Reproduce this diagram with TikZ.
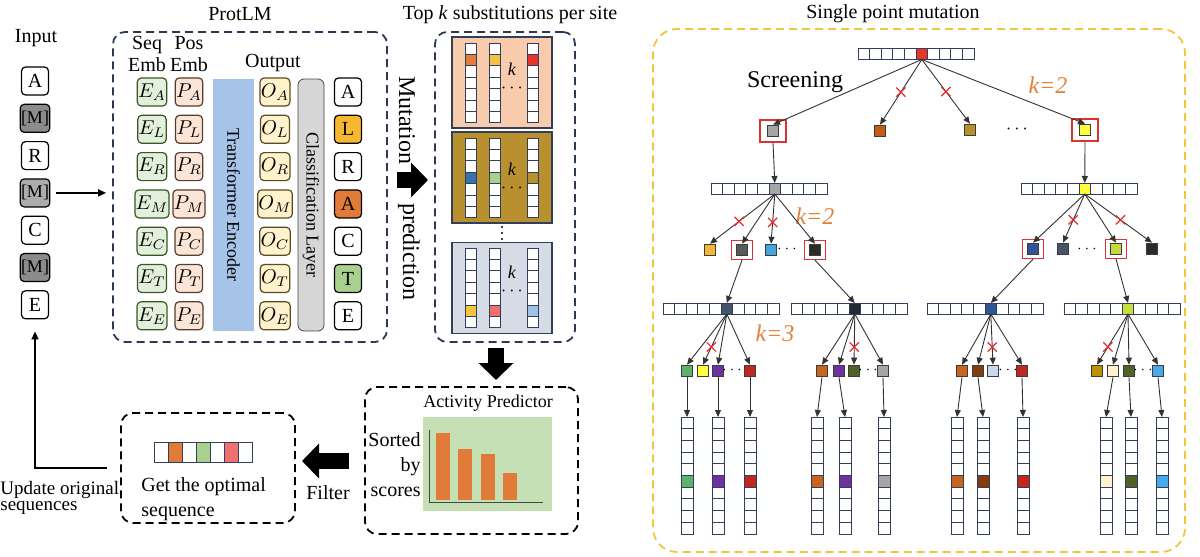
\documentclass[tikz,border=0pt]{standalone}
\usepackage{fontspec}
\setmainfont{Liberation Serif}
\usepackage{tikz}
\usetikzlibrary{arrows.meta, positioning, calc, shapes.misc}
\definecolor{boxnavy}{RGB}{43,57,85}
\definecolor{cellnavy}{RGB}{50,63,90}
\definecolor{embfill}{RGB}{226,239,218}
\definecolor{embdraw}{RGB}{56,87,35}
\definecolor{posfill}{RGB}{251,229,214}
\definecolor{posdraw}{RGB}{90,60,40}
\definecolor{outfill}{RGB}{255,242,204}
\definecolor{outdraw}{RGB}{90,75,30}
\definecolor{teblue}{RGB}{166,196,232}
\definecolor{clgray}{RGB}{214,214,214}
\definecolor{cldraw}{RGB}{70,70,70}
\definecolor{mgray}{RGB}{140,140,140}
\definecolor{mlgray}{RGB}{172,172,172}
\definecolor{cgold}{RGB}{245,184,48}
\definecolor{corange}{RGB}{224,123,57}
\definecolor{cgreen}{RGB}{169,209,142}
\definecolor{cyellow}{RGB}{245,195,66}
\definecolor{cred}{RGB}{232,53,42}
\definecolor{cblue}{RGB}{58,111,176}
\definecolor{csalmon}{RGB}{240,112,112}
\definecolor{clblue}{RGB}{157,195,230}
\definecolor{peach}{RGB}{248,203,173}
\definecolor{olivebg}{RGB}{184,144,46}
\definecolor{bluegray}{RGB}{214,220,229}
\definecolor{chartgreen}{RGB}{197,224,180}
\definecolor{ygold}{RGB}{242,197,61}
\definecolor{framered}{RGB}{220,50,50}
\definecolor{xred}{RGB}{225,45,45}
\definecolor{korange}{RGB}{224,130,60}
\definecolor{treegray}{RGB}{50,50,50}
\definecolor{sqdraw}{RGB}{60,60,60}
\definecolor{tgray}{RGB}{166,166,166}
\definecolor{tbrown}{RGB}{197,90,17}
\definecolor{tolive}{RGB}{184,145,46}
\definecolor{tyellow}{RGB}{255,255,64}
\definecolor{tgold}{RGB}{245,183,49}
\definecolor{tdgray}{RGB}{89,89,89}
\definecolor{tsky}{RGB}{65,168,223}
\definecolor{tblack}{RGB}{40,45,40}
\definecolor{tblue}{RGB}{47,85,151}
\definecolor{tslate}{RGB}{68,84,106}
\definecolor{tlime}{RGB}{197,217,60}
\definecolor{tnavy}{RGB}{34,42,53}
\definecolor{tlime2}{RGB}{200,224,60}
\definecolor{tgreen}{RGB}{90,180,110}
\definecolor{tpurple}{RGB}{112,48,160}
\definecolor{tred}{RGB}{192,40,31}
\definecolor{torange}{RGB}{200,100,30}
\definecolor{tdolive}{RGB}{79,98,40}
\definecolor{tbrown2}{RGB}{132,60,12}
\definecolor{tlav}{RGB}{201,215,239}
\definecolor{tgold2}{RGB}{191,144,0}
\definecolor{tcream}{RGB}{255,242,204}
\definecolor{tlblue}{RGB}{70,170,235}
\tikzset{
  inbox/.style={rectangle, draw=black, fill=white, minimum width=13.5pt,
    minimum height=14pt, inner sep=0.4pt, rounded corners=2pt, line width=0.6pt},
  embbox/.style={inbox, fill=embfill, draw=embdraw},
  posbox/.style={inbox, fill=posfill, draw=posdraw},
  outbox/.style={inbox, fill=outfill, draw=outdraw, minimum width=12pt},
  dbox/.style={rectangle, draw=boxnavy, dash pattern=on 4pt off 2.5pt,
    line width=0.9pt, rounded corners=6pt},
  panel/.style={rectangle, draw=cellnavy, minimum width=50pt, minimum height=45.5pt,
    line width=0.6pt},
  cell/.style={rectangle, draw=cellnavy, minimum width=5.8pt, minimum height=5.5pt,
    inner sep=0pt, outer sep=0pt, line width=0.5pt},
  kcell/.style={cell, minimum width=5.5pt, minimum height=5.7pt},
  fcell/.style={cell, minimum width=6pt, minimum height=5.85pt},
  ocell/.style={cell, minimum width=7pt, minimum height=10pt},
  sq/.style={rectangle, draw=sqdraw, minimum size=5.8pt, inner sep=0pt, line width=0.5pt},
  redframe/.style={rectangle, draw=framered, minimum width=13pt, minimum height=11pt,
    inner sep=0pt, line width=0.6pt},
  smframe/.style={redframe, minimum width=10.5pt, minimum height=9.5pt},
  tarrow/.style={-{Triangle[length=3.5pt,width=3pt]}, line width=0.45pt, color=treegray},
  xmark/.style={cross out, draw=xred, minimum size=4pt, inner sep=0pt, line width=0.6pt},
  kl/.style={font=\large\itshape, color=korange},
  dots/.style={font=\scriptsize, inner sep=0pt},
  bigarrow/.style={line width=8pt, -{Triangle[length=8.5pt,width=17pt]}},
  arrow/.style={-{Triangle[length=4pt,width=3.5pt]}, line width=0.8pt}
}
% row of cells: name, x of first cell, y, count, coloured cell, colour
\newcommand{\hseq}[6]{%
  \foreach \i in {1,...,#4}{%
    \ifnum\i=#5 \def\cc{#6}\else\def\cc{white}\fi
    \node[cell, fill=\cc] (#1-\i) at ({#2+(\i-1)*11.6},#3) {};
  }%
}
% column of cells: style, name, x, y of first cell, step, count, coloured cell, colour
\newcommand{\vseq}[8]{%
  \foreach \i in {1,...,#6}{%
    \ifnum\i=#7 \def\cc{#8}\else\def\cc{white}\fi
    \node[#1, fill=\cc] (#2-\i) at (#3,{#4+(\i-1)*#5}) {};
  }%
}

\begin{document}
\begin{tikzpicture}[x=0.5pt, y=-0.5pt]
  \useasboundingbox (0,0) rectangle (1200,557);

  % input sequence
  \node (inlab) at (36,38) {Input};
  \node[inbox] (in1) at (35,81) {A};
  \node[inbox, fill=mgray] (in2) at (35,118.3) {\small[M]};
  \node[inbox] (in3) at (35,155.6) {R};
  \node[inbox, fill=mlgray] (in4) at (35,192.9) {\small[M]};
  \node[inbox] (in5) at (35,230.2) {C};
  \node[inbox, fill=mgray] (in6) at (35,267.5) {\small[M]};
  \node[inbox] (in7) at (35,304.8) {E};

  % ProtLM
  \node (plmlab) at (240,14) {ProtLM};
  \node[dbox, minimum width=137pt, minimum height=155pt] (plm) at (250,187) {};
  \node[align=center, font=\fontsize{10}{11}\selectfont] (seqlab) at (147,54) {Seq\\Emb};
  \node[align=center, font=\fontsize{10}{11}\selectfont] (poslab) at (189,54) {Pos\\Emb};
  \node (outlab) at (273,63) {Output};
  \foreach \c [count=\i] in {A,L,R,M,C,T,E}{
    \node[embbox] (e\i) at (152,{92+(\i-1)*37.3}) {$E_{\c}$};
    \node[posbox] (p\i) at (189,{92+(\i-1)*37.3}) {$P_{\c}$};
    \node[outbox] (o\i) at (275,{92+(\i-1)*37.3}) {$O_{\c}$};
  }
  \node[fill=teblue, rotate=-90, minimum width=126pt, minimum height=20.5pt,
    font=\small] (te) at (233.5,205) {Transformer Encoder};
  \node[fill=clgray, draw=cldraw, rounded corners=3pt, rotate=-90, minimum width=126pt,
    minimum height=13pt, inner sep=0pt, font=\small] (cl) at (311,205) {Classification Layer};
  \node[inbox] (r1) at (348,92) {A};
  \node[inbox, fill=cgold] (r2) at (348,129.3) {L};
  \node[inbox] (r3) at (348,166.6) {R};
  \node[inbox, fill=corange] (r4) at (348,203.9) {A};
  \node[inbox] (r5) at (348,241.2) {C};
  \node[inbox, fill=cgreen] (r6) at (348,278.5) {T};
  \node[inbox] (r7) at (348,315.8) {E};
  \draw[arrow, shorten <=3pt, shorten >=3pt] (in4.east) -- (in4.east -| plm.west);

  % mutation prediction
  \node[rotate=-90, font=\large] (mutlab) at (407,120) {Mutation};
  \node[rotate=-90, font=\large] (predlab) at (409,252) {prediction};
  \coordinate (mp1) at (397,180);
  \coordinate (mp2) at (428,180);
  \draw[bigarrow] (mp1) -- (mp2);

  % top k substitutions
  \node (tklab) at (510,15) {Top \textit{k} substitutions per site};
  \node[dbox, minimum width=70pt, minimum height=155pt] (tk) at (505,187) {};
  \node[panel, fill=peach] (pa) at (502,82.5) {};
  \node[panel, fill=olivebg] (pb) at (502,177.5) {};
  \node[panel, fill=bluegray] (pc) at (502,288) {};
  \vseq{kcell}{ka1}{471}{48.7}{11.4}{7}{2}{corange}
  \vseq{kcell}{ka2}{495}{48.7}{11.4}{7}{2}{cyellow}
  \vseq{kcell}{ka3}{533}{48.7}{11.4}{7}{2}{cred}
  \vseq{kcell}{kb1}{471}{143.7}{11.4}{7}{4}{cblue}
  \vseq{kcell}{kb2}{495}{143.7}{11.4}{7}{4}{cgreen}
  \vseq{kcell}{kb3}{533}{143.7}{11.4}{7}{4}{olivebg}
  \vseq{kcell}{kc1}{471}{253.7}{11.4}{7}{6}{cyellow}
  \vseq{kcell}{kc2}{495}{253.7}{11.4}{7}{6}{csalmon}
  \vseq{kcell}{kc3}{533}{253.7}{11.4}{7}{6}{clblue}
  \foreach \y/\n in {78/1,178/2,281/3}
    \node[align=center, inner sep=0pt, font=\fontsize{9}{8.5}\selectfont] (kk\n) at (512,\y) {\textit{k}\\$\cdots$};
  \foreach \y in {227,233,239}
    \fill (502,\y) circle (0.6pt);

  % activity predictor
  \coordinate (da1) at (496,348);
  \coordinate (da2) at (496,380);
  \draw[bigarrow] (da1) -- (da2);
  \node[dbox, draw=black, minimum width=106.5pt, minimum height=73.5pt] (act) at (471.5,460.5) {};
  \node[font=\small] (actlab) at (488,403) {Activity Predictor};
  \node[fill=chartgreen, minimum width=64.5pt, minimum height=47pt, inner sep=0pt] (chart) at (487.5,464) {};
  \draw[cldraw, line width=0.5pt] (429,430) -- (429,502) -- (543,502);
  \fill[corange] (436,433) rectangle (450,500);
  \fill[corange] (458,449) rectangle (472,500);
  \fill[corange] (481,454) rectangle (495,500);
  \fill[corange] (503,473) rectangle (517,500);
  \node[align=right, anchor=east, font=\fontsize{10}{12.5}\selectfont, inner sep=0pt] (sortlab) at (421,465) {Sorted\\by\\scores};

  % filter and optimal sequence
  \coordinate (fa1) at (349,461);
  \coordinate (fa2) at (302,461);
  \draw[bigarrow] (fa1) -- (fa2);
  \node (filtlab) at (328,493) {Filter};
  \node[dbox, draw=black, minimum width=87pt, minimum height=55pt] (opt) at (208,468) {};
  \foreach \c [count=\i] in {white,corange,white,cgreen,white,csalmon,white}
    \node[ocell, fill=\c] (oc\i) at ({161+(\i-1)*14},452) {};
  \node[align=left, anchor=north west, font=\fontsize{10}{12.5}\selectfont, inner sep=0pt] (optlab) at (141,477) {Get the optimal\\sequence};
  \node[align=left, anchor=north west, font=\fontsize{9.5}{7.8}\selectfont, inner sep=0pt] (updlab) at (0,481) {Update original\\sequences};
  \draw[arrow] ([xshift=-6.5pt]opt.west) -| ([yshift=-6pt]in7.south);

  % single point mutation tree
  \node (spmlab) at (893,14) {Single point mutation};
  \node[dbox, draw=ygold, rounded corners=12pt, minimum width=266pt, minimum height=261.5pt] (spm) at (919,290.5) {};
  \hseq{s0}{863.8}{54}{10}{6}{cred}
  \node[sq, fill=tgray] (n1) at (773,131) {};
  \node[redframe] (f1) at (773,131) {};
  \node[sq, fill=tbrown] (n2) at (880,131) {};
  \node[sq, fill=tolive] (n3) at (970,130) {};
  \node[font=\small] (d1) at (1017,129) {$\cdots$};
  \node[sq, fill=tyellow] (n4) at (1085,130) {};
  \node[redframe] (f4) at (1085,130) {};
  \node[font=\large] (scrlab) at (795,82) {Screening};
  \node[kl] (k1) at (1048,85) {k=2};
  \draw[tarrow] (s0-6.south) -- (n1.north);
  \draw[tarrow] (s0-6.south) -- node[xmark, pos=0.5] {} (n2.north);
  \draw[tarrow] (s0-6.south) -- node[xmark, pos=0.5] {} (n3.north);
  \draw[tarrow] (s0-6.south) -- (n4.north);

  \hseq{s1}{716.8}{188.5}{10}{6}{tgray}
  \hseq{s2}{1026.8}{188.5}{10}{6}{tyellow}
  \draw[tarrow] (f1.south) -- (s1-6.north);
  \draw[tarrow] (f4.south) -- (s2-6.north);

  \node[sq, fill=tgold] (m1) at (710,250) {};
  \node[sq, fill=tdgray] (m2) at (742,250) {};
  \node[smframe] (g2) at (742,250) {};
  \node[sq, fill=tsky] (m3) at (771,250) {};
  \node[dots] (d2) at (787,249) {$\cdots$};
  \node[sq, fill=tblack] (m4) at (815,250) {};
  \node[smframe] (g4) at (815,250) {};
  \node[kl] (k2) at (815,216) {k=2};
  \node[sq, fill=tblue] (m5) at (1033,249) {};
  \node[smframe] (g5) at (1033,249) {};
  \node[sq, fill=tslate] (m6) at (1063,249) {};
  \node[dots] (d3) at (1087,249) {$\cdots$};
  \node[sq, fill=tlime] (m7) at (1116,249) {};
  \node[smframe] (g7) at (1116,249) {};
  \node[sq, fill=tblack] (m8) at (1152,249) {};
  \draw[tarrow] (s1-6.south) -- node[xmark, pos=0.55] {} (m1.north);
  \draw[tarrow] (s1-6.south) -- (m2.north);
  \draw[tarrow] (s1-6.south) -- node[xmark, pos=0.57] {} (m3.north);
  \draw[tarrow] (s1-6.south) -- (m4.north);
  \draw[tarrow] (s2-6.south) -- (m5.north);
  \draw[tarrow] (s2-6.south) -- node[xmark, pos=0.53] {} (m6.north);
  \draw[tarrow] (s2-6.south) -- (m7.north);
  \draw[tarrow] (s2-6.south) -- node[xmark, pos=0.53] {} (m8.north);

  \hseq{s3}{668.8}{308.5}{10}{6}{tslate}
  \hseq{s4}{796.8}{308.5}{10}{6}{tnavy}
  \hseq{s5}{932.8}{308.5}{10}{6}{tblue}
  \hseq{s6}{1070}{308.5}{10}{6}{tlime2}
  \draw[tarrow] (g2.south) -- (s3-6.north);
  \draw[tarrow] (g4.south) -- (s4-6.north);
  \draw[tarrow] (g5.south) -- (s5-6.north);
  \draw[tarrow] (g7.south) -- (s6-6.north);
  \node[kl] (k3) at (775,333) {k=3};

  \foreach \x/\c [count=\i] in {687/tgreen,703/tyellow,718/tpurple,750/tred,
      822/torange,839/tpurple,854/tdolive,883/tgray,
      962/torange,978/tbrown2,993/tlav,1022/tred,
      1097/tgold2,1113/tcream,1129/tdolive,1158/tlblue}
    \node[sq, fill=\c] (q\i) at (\x,371) {};
  \foreach \x [count=\i] in {732,868,1008,1143}
    \node[dots] (dd\i) at (\x,370) {$\cdots$};
  \foreach \s/\q in {s3/q1,s3/q3,s3/q4,s4/q5,s4/q6,s4/q8,s5/q9,s5/q10,s5/q12,
      s6/q14,s6/q15,s6/q16}
    \draw[tarrow] (\s-6.south) -- (\q.north);
  \foreach \s/\q in {s3/q2,s4/q7,s5/q11,s6/q13}
    \draw[tarrow] (\s-6.south) -- node[xmark, pos=0.65] {} (\q.north);

  % result columns
  \foreach \x/\c/\q [count=\j] in {687/tgreen/q1,718/tpurple/q3,750/tred/q4,
      817/torange/q5,845/tpurple/q6,884/tgray/q8,
      957/torange/q9,983/tbrown2/q10,1023/tred/q12,
      1106/tcream/q14,1131/tdolive/q15,1162/tlblue/q16}{
    \vseq{fcell}{c\j}{\x}{422.85}{11.7}{10}{6}{\c}
    \draw[tarrow] (\q.south) -- (c\j-1.north);
  }
\end{tikzpicture}
\end{document}
